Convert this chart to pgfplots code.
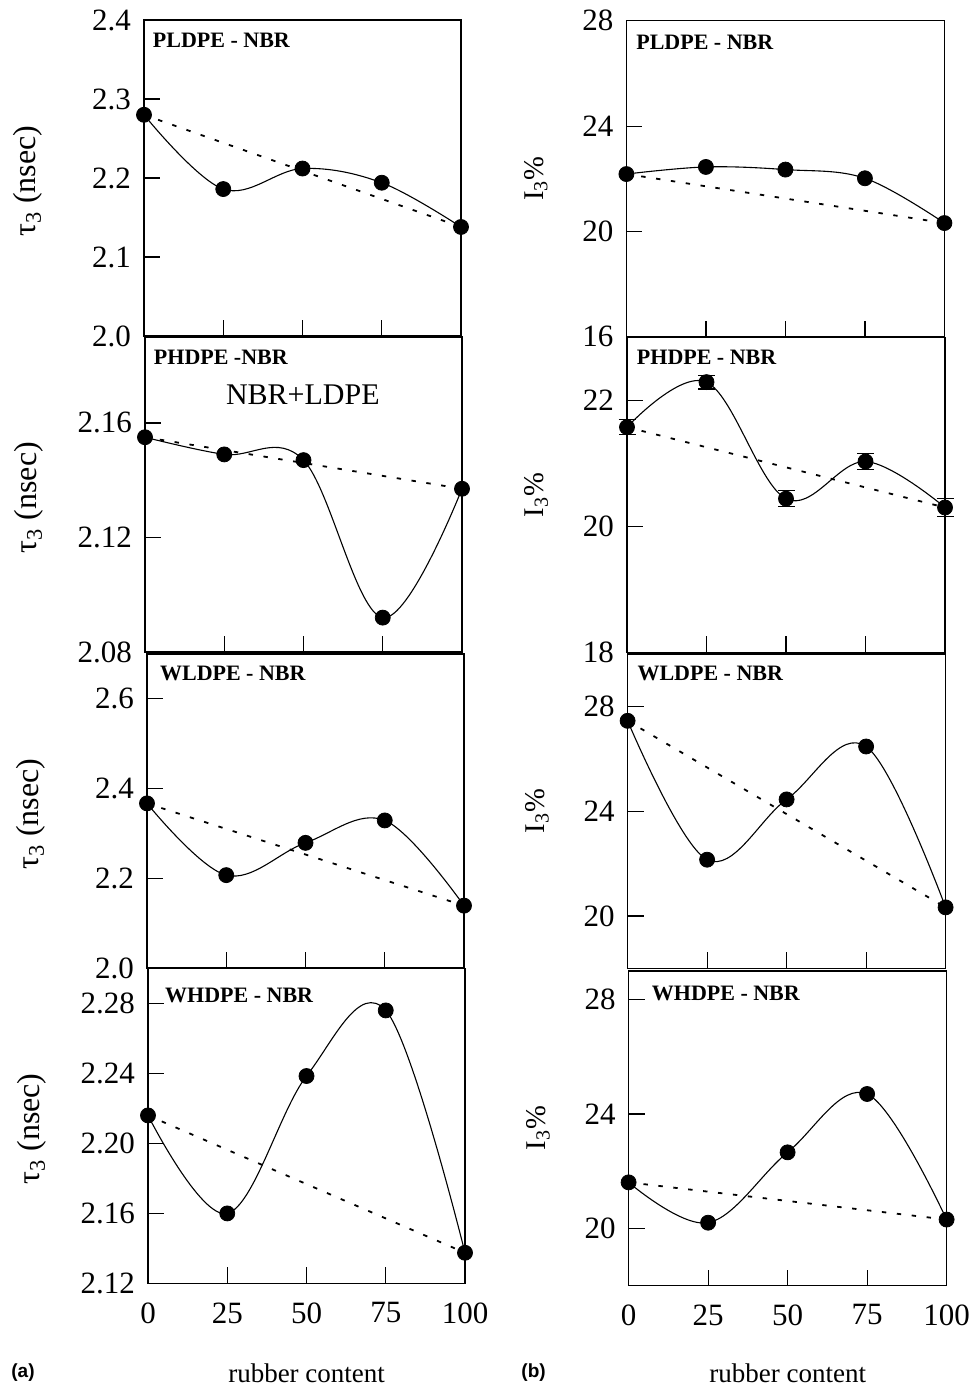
\documentclass[border=0pt]{standalone}
\usepackage{pgfplots}
\pgfplotsset{compat=1.18}
\usepackage{fontspec}
\setmainfont{Liberation Serif}
\newfontfamily\sansf{Liberation Sans}
\newcommand{\tickfont}{\fontsize{15.5}{17}\selectfont}
\newcommand{\taufont}{\fontsize{16}{18}\selectfont}
\newcommand{\ifont}{\fontsize{14.3}{16}\selectfont}
\pgfplotsset{
  panel/.style={
    scale only axis, clip=false,
    xmin=0, xmax=100,
    xtick={0,25,50,75,100}, xticklabels={},
    tick align=inside, ytick pos=left, xtick pos=bottom,
    major tick length=8pt,
    axis line style={line width=0.6pt},
    every tick/.style={line width=0.6pt, black},
    tick label style={font=\tickfont},
    yticklabel style={xshift=-3pt},
    xticklabel style={yshift=-6pt},
    anchor=north west,
  },
  curve/.style={smooth, tension=0.6, line width=0.55pt, black, no markers},
  mix/.style={line width=0.9pt, dash pattern=on 2.2pt off 5.3pt, black, no markers},
  pts/.style={only marks, mark=*, mark size=3.75pt, black},
  taulab/.style={ylabel={τ\textsubscript{3} (nsec)}, ylabel style={font=\taufont, at={(axis description cs:-0.366,0.49)}, anchor=center}},
  ilab/.style={ylabel={I\textsubscript{3}\%}, ylabel style={font=\ifont, at={(axis description cs:-0.285,0.5)}, anchor=center}},
}
\newcommand{\ptitle}[3]{\node[anchor=west, font=\bfseries\fontsize{11}{13}\selectfont, inner sep=0pt] at (axis description cs:#1,#2) {#3};}
\begin{document}
\begin{tikzpicture}
\path[use as bounding box] (0,0) rectangle (487pt,-693pt);
% ---------------- left column ----------------
\begin{axis}[panel, taulab, at={(72pt,-10pt)}, width=158.5pt, height=158pt,
  ymin=2.0, ymax=2.4, ytick={2.0,2.1,2.2,2.3,2.4}, yticklabels={2.0,2.1,2.2,2.3,2.4}]
  \addplot[curve] coordinates {(0,2.280) (25,2.186) (50,2.212) (75,2.194) (100,2.138)};
  \addplot[mix] coordinates {(0,2.280) (100,2.138)};
  \addplot[pts] coordinates {(0,2.280) (25,2.186) (50,2.212) (75,2.194) (100,2.138)};
  \ptitle{0.027}{0.937}{PLDPE - NBR}
\end{axis}
\begin{axis}[panel, taulab, at={(72.5pt,-168.5pt)}, width=158.5pt, height=157.5pt,
  ymin=2.08, ymax=2.19, ytick={2.08,2.12,2.16}, yticklabels={2.08,2.12,2.16}]
  \addplot[curve] coordinates {(0,2.155) (25,2.149) (50,2.147) (75,2.092) (100,2.137)};
  \addplot[mix] coordinates {(0,2.155) (100,2.137)};
  \addplot[pts] coordinates {(0,2.155) (25,2.149) (50,2.147) (75,2.092) (100,2.137)};
  \ptitle{0.027}{0.937}{PHDPE -NBR}
  \node[font=\fontsize{15}{17}\selectfont] at (axis description cs:0.498,0.818) {NBR+LDPE};
\end{axis}
\begin{axis}[panel, taulab, at={(73.5pt,-327pt)}, width=158.5pt, height=157pt,
  ymin=2.0, ymax=2.7, ytick={2.0,2.2,2.4,2.6}, yticklabels={2.0,2.2,2.4,2.6}]
  \addplot[curve] coordinates {(0,2.367) (25,2.207) (50,2.279) (75,2.329) (100,2.139)};
  \addplot[mix] coordinates {(0,2.367) (100,2.139)};
  \addplot[pts] coordinates {(0,2.367) (25,2.207) (50,2.279) (75,2.329) (100,2.139)};
  \ptitle{0.04}{0.938}{WLDPE - NBR}
\end{axis}
\begin{axis}[panel, taulab, at={(74pt,-484.2pt)}, width=158.5pt, height=157.5pt,
  ymin=2.12, ymax=2.30, ytick={2.12,2.16,2.20,2.24,2.28}, yticklabels={2.12,2.16,2.20,2.24,2.28},
  xticklabels={0,25,50,75,100}]
  \addplot[curve] coordinates {(0,2.216) (25,2.160) (50,2.2385) (75,2.276) (100,2.1375)};
  \addplot[mix] coordinates {(0,2.216) (100,2.1375)};
  \addplot[pts] coordinates {(0,2.216) (25,2.160) (50,2.2385) (75,2.276) (100,2.1375)};
  \ptitle{0.053}{0.914}{WHDPE - NBR}
\end{axis}
% ---------------- right column ----------------
\begin{axis}[panel, ilab, at={(313.2pt,-10.4pt)}, width=159pt, height=158pt,
  ymin=16, ymax=28, ytick={16,20,24,28}, yticklabels={16,20,24,28}]
  \addplot[curve] coordinates {(0,22.18) (25,22.45) (50,22.35) (75,22.02) (100,20.32)};
  \addplot[mix] coordinates {(0,22.18) (100,20.32)};
  \addplot[pts] coordinates {(0,22.18) (25,22.45) (50,22.35) (75,22.02) (100,20.32)};
  \ptitle{0.03}{0.933}{PLDPE - NBR}
\end{axis}
\begin{axis}[panel, ilab, at={(313.5pt,-168.7pt)}, width=159pt, height=157.5pt,
  ymin=18, ymax=23, ytick={18,20,22}, yticklabels={18,20,22}]
  \addplot[curve] coordinates {(0,21.575) (25,22.29) (50,20.44) (75,21.03) (100,20.30)};
  \addplot[mix] coordinates {(0,21.575) (100,20.30)};
  \addplot[pts, error bars/.cd, y dir=both, y explicit,
    error mark options={rotate=90, mark size=4.25pt, line width=0.6pt},
    error bar style={line width=0.6pt}]
    coordinates {(0,21.575) +- (0,0.12) (25,22.29) +- (0,0.11) (50,20.44) +- (0,0.13) (75,21.03) +- (0,0.13) (100,20.30) +- (0,0.14)};
  \ptitle{0.03}{0.937}{PHDPE - NBR}
\end{axis}
\begin{axis}[panel, ilab, at={(313.8pt,-327pt)}, width=159pt, height=157.2pt,
  ymin=18, ymax=30, ytick={20,24,28}, yticklabels={20,24,28}]
  \addplot[curve] coordinates {(0,27.45) (25,22.15) (50,24.45) (75,26.47) (100,20.33)};
  \addplot[mix] coordinates {(0,27.45) (100,20.33)};
  \addplot[pts] coordinates {(0,27.45) (25,22.15) (50,24.45) (75,26.47) (100,20.33)};
  \ptitle{0.03}{0.938}{WLDPE - NBR}
\end{axis}
\begin{axis}[panel, ilab, at={(314.3pt,-485.5pt)}, width=159pt, height=157.3pt,
  ymin=18, ymax=29, ytick={20,24,28}, yticklabels={20,24,28},
  xticklabels={0,25,50,75,100}]
  \addplot[curve] coordinates {(0,21.61) (25,20.20) (50,22.66) (75,24.70) (100,20.31)};
  \addplot[mix] coordinates {(0,21.61) (100,20.31)};
  \addplot[pts] coordinates {(0,21.61) (25,20.20) (50,22.66) (75,24.70) (100,20.31)};
  \ptitle{0.072}{0.93}{WHDPE - NBR}
\end{axis}
% ---------------- bottom texts ----------------
\node[font=\fontsize{13.5}{15}\selectfont] at (153.3pt,-686.5pt) {rubber content};
\node[font=\fontsize{13.5}{15}\selectfont] at (393.9pt,-686.5pt) {rubber content};
\node[font=\sansf\bfseries\fontsize{9.5}{11}\selectfont] at (11.5pt,-686.5pt) {(a)};
\node[font=\sansf\bfseries\fontsize{9.5}{11}\selectfont] at (266.8pt,-686.5pt) {(b)};
\end{tikzpicture}
\end{document}
